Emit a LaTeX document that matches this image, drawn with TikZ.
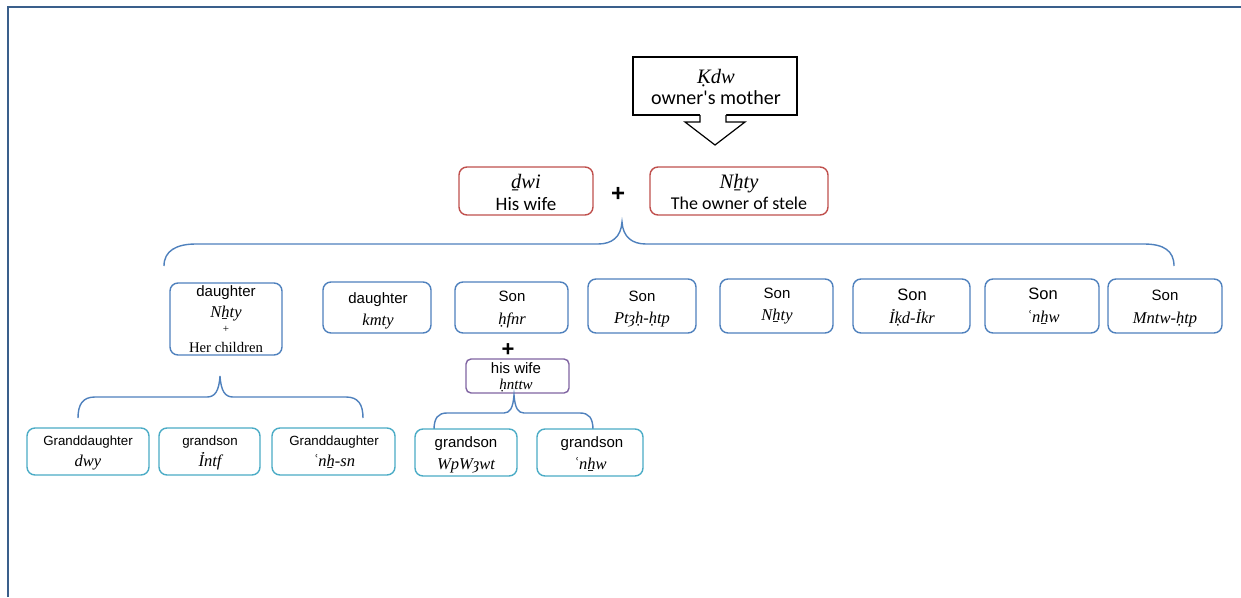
\documentclass[tikz,border=0pt]{standalone}
\usepackage{fontspec}
\setmainfont{Liberation Serif}
\newfontfamily\arialf{Liberation Sans}
\newfontfamily\calibf{Carlito}
\definecolor{frameblue}{HTML}{3A5F8B}
\definecolor{redb}{HTML}{C0504D}
\definecolor{blueb}{HTML}{4F81BD}
\definecolor{purpb}{HTML}{8064A2}
\definecolor{cyanb}{HTML}{4BACC6}
\tikzset{
  bx/.style={draw, rounded corners=8pt, line width=1.4pt, inner sep=0pt, fill=white},
  redbox/.style={bx, draw=redb},
  bluebox/.style={bx, draw=blueb},
  purpbox/.style={bx, draw=purpb},
  cyanbox/.style={bx, draw=cyanb},
  t/.style={anchor=base, inner sep=0pt},
  ar/.style={t, font=\arialf\fontsize{15}{18}\selectfont},
  arsm/.style={t, font=\arialf\fontsize{13.3}{16}\selectfont},
  it/.style={t, font=\itshape\fontsize{16.5}{19}\selectfont},
  itbig/.style={t, font=\itshape\fontsize{20.5}{24}\selectfont},
  cal/.style={t, font=\calibf\fontsize{19}{23}\selectfont},
  brace/.style={draw=blueb, line width=1.4pt},
}
\begin{document}
\begin{tikzpicture}[x=1pt,y=-1pt]
\useasboundingbox (0,0) rectangle (1241,597);
\fill[white] (0,0) rectangle (1241,597);
\draw[frameblue, line width=2.5pt] (8,597) -- (8,7) -- (1241,7);

% owner's mother
\node[draw=black, line width=1.2pt, minimum width=164pt, minimum height=58pt, inner sep=0pt] (mom) at (715,86) {};
\node[itbig] (momn) at (716,83) {Ḳdw};
\node[t, font=\calibf\fontsize{20}{24}\selectfont] (momt) at (716,104) {owner's mother};
\fill[white] (700,113) -- (700,122) -- (685,122) -- (715,145) -- (745,122) -- (726,122) -- (726,113) -- cycle;
\draw[black, line width=1.2pt] (700,115) -- (700,122) -- (685,122) -- (715,145) -- (745,122) -- (726,122) -- (726,115);

% couple
\node[redbox, minimum width=134pt, minimum height=48pt] (wife) at (526,191) {};
\node[itbig] (wifen) at (526,188) {ḏwi};
\node[cal] (wifet) at (526,210) {His wife};
\node[redbox, minimum width=178pt, minimum height=48pt] (own) at (739,191) {};
\node[itbig] (ownn) at (739,188) {Nẖty};
\node[t, font=\calibf\fontsize{18}{22}\selectfont] (ownt) at (739,209) {The owner of stele};
\node[t, font=\arialf\bfseries\fontsize{24}{26}\selectfont] (plus1) at (618,201) {+};

% big brace
\coordinate (btip) at (622,222);
\coordinate (bl) at (164,266);
\coordinate (br) at (1174,266);
\draw[brace] (bl) .. controls (164,251) and (176,244) .. (196,244) -- (598,244)
  .. controls (612,244) and (621,237) .. (btip)
  .. controls (623,237) and (632,244) .. (646,244) -- (1144,244)
  .. controls (1164,244) and (1174,251) .. (br);

% children
\node[bluebox, minimum width=112pt, minimum height=72pt] (c1) at (226,319) {};
\node[ar] (c1a) at (226,296) {daughter};
\node[it] (c1b) at (226,317) {Nẖty};
\node[t, font=\fontsize{11}{12}\selectfont] (c1c) at (226,332) {+};
\node[t, font=\fontsize{14.7}{17}\selectfont] (c1d) at (226,352) {Her children};

\node[bluebox, minimum width=108pt, minimum height=51pt] (c2) at (377,307.5) {};
\node[ar] (c2a) at (378,303) {daughter};
\node[it] (c2b) at (378,325) {kmty};

\node[bluebox, minimum width=113pt, minimum height=51pt] (c3) at (511.5,307.5) {};
\node[ar] (c3a) at (512,301) {Son};
\node[it] (c3b) at (512,324) {ḥfnr};

\node[bluebox, minimum width=108pt, minimum height=54pt] (c4) at (642,306) {};
\node[ar] (c4a) at (642,301) {Son};
\node[it] (c4b) at (642,323) {Ptȝḥ-ḥtp};

\node[bluebox, minimum width=113pt, minimum height=54pt] (c5) at (776.5,306) {};
\node[ar] (c5a) at (777,298) {Son};
\node[it] (c5b) at (777,320) {Nẖty};

\node[bluebox, minimum width=117pt, minimum height=54pt] (c6) at (911.5,306) {};
\node[t, font=\arialf\fontsize{16.5}{19}\selectfont] (c6a) at (912,300) {Son};
\node[it] (c6b) at (912,323) {Ỉḳd-Ỉkr};

\node[bluebox, minimum width=114pt, minimum height=54pt] (c7) at (1042,306) {};
\node[t, font=\arialf\fontsize{16.5}{19}\selectfont] (c7a) at (1043,299) {Son};
\node[it] (c7b) at (1043,322) {ʿnẖw};

\node[bluebox, minimum width=114pt, minimum height=54pt] (c8) at (1165,306) {};
\node[ar] (c8a) at (1165,300) {Son};
\node[it] (c8b) at (1165,323) {Mntw-ḥtp};

% his wife of son hfnr
\node[t, font=\arialf\bfseries\fontsize{22}{24}\selectfont] (plus2) at (508,356) {+};
\node[purpbox, minimum width=103pt, minimum height=34pt, rounded corners=5pt] (hw) at (517.5,376) {};
\node[ar] (hwa) at (516,373) {his wife};
\node[t, font=\itshape\fontsize{15}{18}\selectfont] (hwb) at (516,389) {ḥnttw};

% brace under daughter
\coordinate (s1tip) at (220,376);
\coordinate (s1l) at (78,418);
\coordinate (s1r) at (363,418);
\draw[brace] (s1l) .. controls (78,404) and (83,397) .. (95,397) -- (207,397)
  .. controls (215,397) and (219,391) .. (s1tip)
  .. controls (221,391) and (225,397) .. (233,397) -- (346,397)
  .. controls (358,397) and (363,404) .. (s1r);

% brace under his wife
\coordinate (s2tip) at (514,395);
\coordinate (s2l) at (434,430);
\coordinate (s2r) at (593,430);
\draw[brace] (s2l) .. controls (434,418) and (438,413) .. (447,413) -- (504,413)
  .. controls (510,413) and (513,408) .. (s2tip)
  .. controls (515,408) and (518,413) .. (524,413) -- (580,413)
  .. controls (589,413) and (593,418) .. (s2r);

% grandchildren
\node[cyanbox, minimum width=122pt, minimum height=47pt] (g1) at (88,451.5) {};
\node[arsm] (g1a) at (88,445) {Granddaughter};
\node[it] (g1b) at (88,466) {dwy};

\node[cyanbox, minimum width=101pt, minimum height=47pt] (g2) at (209.5,451.5) {};
\node[arsm] (g2a) at (210,445) {grandson};
\node[it] (g2b) at (210,466) {Ỉntf};

\node[cyanbox, minimum width=123pt, minimum height=47pt] (g3) at (333.5,451.5) {};
\node[arsm] (g3a) at (334,445) {Granddaughter};
\node[it] (g3b) at (334,466) {ʿnẖ-sn};

\node[cyanbox, minimum width=102pt, minimum height=47pt] (g4) at (466,452.5) {};
\node[ar] (g4a) at (466,447) {grandson};
\node[it] (g4b) at (466,469) {WpWȝwt};

\node[cyanbox, minimum width=106pt, minimum height=47pt] (g5) at (590,452.5) {};
\node[ar] (g5a) at (592,447) {grandson};
\node[it] (g5b) at (590,469) {ʿnẖw};
\end{tikzpicture}
\end{document}
